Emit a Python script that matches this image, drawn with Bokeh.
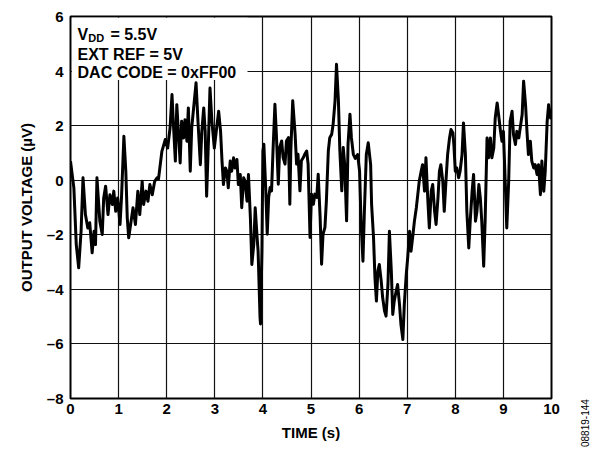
from bokeh.plotting import figure
from bokeh.layouts import row
from bokeh.models import FixedTicker, BoxAnnotation, Label, Range1d, Div
from bokeh.embed import file_html
from bokeh.resources import INLINE

time_s = [
    0.00, 0.07, 0.12, 0.17, 0.22, 0.26, 0.31, 0.36, 0.40, 0.45,
    0.49, 0.52, 0.55, 0.61, 0.66, 0.69, 0.73, 0.78, 0.82, 0.87,
    0.90, 0.94, 0.98, 1.03, 1.06, 1.11, 1.15, 1.18, 1.21, 1.26,
    1.30, 1.35, 1.40, 1.44, 1.49, 1.52, 1.57, 1.61, 1.65, 1.70,
    1.75, 1.80,
    1.83, 1.90, 1.97, 2.02, 2.07, 2.11, 2.14, 2.18, 2.21, 2.25,
    2.28, 2.31, 2.35, 2.38, 2.42, 2.45, 2.49, 2.52, 2.56, 2.61,
    2.65, 2.70, 2.73, 2.77, 2.80, 2.83, 2.87, 2.90, 2.94, 2.99,
    3.03, 3.08, 3.12, 3.15, 3.18, 3.22, 3.25, 3.28, 3.32, 3.35,
    3.39, 3.42, 3.46, 3.49, 3.53, 3.56, 3.60, 3.63, 3.67, 3.70,
    3.74, 3.77, 3.81, 3.84, 3.88,
    3.90, 3.94, 3.95, 3.98, 4.00, 4.02, 4.06, 4.09, 4.12, 4.15,
    4.18, 4.21, 4.25, 4.28, 4.32, 4.35, 4.39, 4.42, 4.46, 4.49,
    4.53, 4.56, 4.58, 4.62, 4.67, 4.70, 4.73, 4.77, 4.80, 4.84,
    4.87, 4.91, 4.94, 4.98, 5.01, 5.05, 5.08, 5.12, 5.15, 5.19,
    5.22, 5.25, 5.29, 5.32, 5.36, 5.39, 5.43, 5.46, 5.50, 5.53,
    5.57, 5.60, 5.64, 5.67, 5.70, 5.74, 5.77, 5.81, 5.84, 5.88,
    5.92,
    5.97, 6.01, 6.04, 6.08, 6.11, 6.15, 6.19, 6.24, 6.26, 6.30,
    6.33, 6.36, 6.39, 6.42, 6.46, 6.49, 6.53, 6.56, 6.60, 6.63,
    6.67, 6.70, 6.73, 6.77, 6.80, 6.84, 6.87, 6.91, 6.94, 6.98,
    7.01, 7.05, 7.08, 7.12, 7.15, 7.19, 7.22, 7.25, 7.29, 7.32,
    7.36, 7.39, 7.43, 7.46, 7.50, 7.53, 7.57, 7.60, 7.64, 7.67,
    7.70, 7.74, 7.77, 7.81, 7.84, 7.88, 7.91, 7.95,
    7.97, 8.00, 8.03, 8.07, 8.10, 8.14, 8.17, 8.21, 8.24, 8.28,
    8.31, 8.35, 8.38, 8.42, 8.45, 8.49, 8.52, 8.55, 8.59, 8.62,
    8.66, 8.69, 8.73, 8.76, 8.80, 8.83, 8.87, 8.90, 8.94, 8.97,
    9.00, 9.04, 9.07, 9.11, 9.14, 9.18, 9.21, 9.25, 9.28, 9.32,
    9.35, 9.39, 9.42, 9.46, 9.49, 9.52, 9.56, 9.59, 9.63, 9.66,
    9.70, 9.73, 9.77, 9.80, 9.84, 9.87, 9.91, 9.94, 9.98, 10.00,
]

voltage_uv = [
    0.70, -0.28, -2.36, -3.21, -1.87, 0.09, -1.26, -1.75, -1.56, -2.66,
    -1.87, -2.36, 0.09, -1.50, -1.99, -0.65, -0.22, -1.26, -0.53, -0.89,
    -0.40, -1.14, -0.65, -1.62, -0.65, 1.61, 0.33, -1.38, -2.11, -1.50,
    -1.01, -1.62, -0.40, -1.26, -0.04, -0.89, -0.40, -0.77, -0.16, -0.53,
    -0.04, 0.09,
    0.05, 1.06, 1.49, 1.18, 1.92, 3.14, 2.04, 0.70, 2.77, 1.55,
    0.63, 2.16, 1.55, 2.22, 1.43, 2.65, 0.33, 1.92, 2.65, 3.57,
    2.16, 0.57, 1.79, 2.65, 1.79, -0.59, 1.55, 3.38, 2.16, 1.18,
    1.79, 2.53, 1.79, 0.70, -0.16, 0.45, 0.33, -0.28, 0.70, 0.33,
    0.82, 0.45, 0.76, -0.16, 0.21, -1.01, 0.09, -0.04, -0.77, 0.21,
    -1.38, -3.09, -2.36, -1.01, -2.11,
    -2.59, -5.01, -5.27, -2.59, 1.07, 1.32, -0.39, -1.98, -0.63, -0.27,
    -0.39, 1.07, 2.78, 1.68, -0.15, 1.20, 1.44, 0.83, 0.59, 1.44,
    1.56, -0.88, 1.07, 2.91, 1.68, 0.59, 0.95, -0.39, 0.71, 0.83,
    0.95, 1.07, 0.59, -2.10, -0.51, -0.88, -0.51, -0.63, 0.22, -1.37,
    -3.08, -1.98, -1.73, -0.76, 1.07, 1.56, 1.68, 2.05, 2.91, 4.25,
    2.91, 1.07, -0.39, 1.20, 0.59, -1.49, 1.32, 2.42, 1.56, 0.95,
    0.80,
    0.94, 0.33, -1.50, -2.97, -1.14, 0.94, 1.37, 0.57, -0.89, -2.11,
    -3.58, -4.43, -3.33, -3.09, -3.70, -4.31, -4.80, -4.98, -3.82, -1.87,
    -3.33, -4.92, -4.43, -4.07, -3.82, -4.55, -5.29, -5.84, -4.55, -3.46,
    -2.85, -1.87, -2.60, -1.99, -1.50, -1.01, -0.53, -0.04, 0.33, 0.57,
    -0.40, 0.82, -0.77, -1.75, -0.40, -0.16, -1.14, -1.62, -0.65, 0.33,
    0.57, -0.04, -1.14, 0.09, 0.94, 1.55, 1.86, 1.73,
    1.31, 0.33, 0.45, 0.09, 0.33, 0.94, 2.10, 0.94, -1.14, -2.48,
    -1.50, -0.40, 0.21, -1.50, -1.14, -0.16, -0.65, -1.50, -3.15, -1.50,
    1.55, 0.82, 1.55, 0.82, 1.18, 2.28, 2.83, 2.40, 1.79, 1.43,
    1.79, -0.16, -1.75, -0.04, 2.16, 2.53, 1.67, 1.31, 1.79, 1.55,
    1.92, 2.41, 3.63, 2.78, 1.79, 0.94, 1.43, 0.70, 0.45, 0.57,
    0.21, 0.57, -0.53, 0.70, -0.40, 0.33, 2.16, 2.77, 2.28, 2.60,
]

x_ticks = [0, 1, 2, 3, 4, 5, 6, 7, 8, 9, 10]
y_ticks = [-8, -6, -4, -2, 0, 2, 4, 6]
y_tick_labels = {-8: "\u20138", -6: "\u20136", -4: "\u20134", -2: "\u20132",
                 0: "0", 2: "2", 4: "4", 6: "6"}
x_title = "TIME (s)"
y_title = "OUTPUT VOLTAGE (\u00b5V)"
note_vdd_main = "V"
note_vdd_sub = "DD"
note_vdd_rest = "= 5.5V"
note_line2 = "EXT REF = 5V"
note_line3 = "DAC CODE = 0xFF00"
fig_code = "08819-144"

FONT = "Liberation Sans"

p = figure(frame_width=481, frame_height=382,
           x_range=Range1d(0, 10), y_range=Range1d(-8, 6),
           output_backend="svg", toolbar_location=None,
           min_border_left=70, min_border_right=24,
           min_border_top=16, min_border_bottom=52)

p.background_fill_color = "white"
p.border_fill_color = "white"
p.outline_line_color = "black"
p.outline_line_width = 2

p.xaxis.ticker = FixedTicker(ticks=x_ticks)
p.yaxis.ticker = FixedTicker(ticks=y_ticks)
p.xgrid.ticker = FixedTicker(ticks=x_ticks)
p.ygrid.ticker = FixedTicker(ticks=y_ticks)
p.yaxis.major_label_overrides = y_tick_labels

for g in (p.xgrid, p.ygrid):
    g.grid_line_color = "#111111"
    g.grid_line_width = 1.2

for ax in (p.xaxis, p.yaxis):
    ax.axis_line_color = None
    ax.major_tick_line_color = None
    ax.minor_tick_line_color = None
    ax.major_tick_out = 0
    ax.major_tick_in = 0
    ax.minor_tick_out = 0
    ax.minor_tick_in = 0
    ax.major_label_text_font = FONT
    ax.major_label_text_font_style = "bold"
    ax.major_label_text_font_size = "15px"
    ax.major_label_text_color = "black"
    ax.axis_label_text_font = FONT
    ax.axis_label_text_font_style = "bold"
    ax.axis_label_text_font_size = "15px"
    ax.axis_label_text_color = "black"

p.xaxis.major_label_standoff = 5
p.yaxis.major_label_standoff = 7
p.xaxis.axis_label = x_title
p.yaxis.axis_label = y_title
p.xaxis.axis_label_standoff = 7
p.yaxis.axis_label_standoff = 9

p.line(time_s, voltage_uv, line_color="black", line_width=3,
       line_join="round")

# white box behind the condition notes
p.add_layout(BoxAnnotation(left=0.03, right=3.68, bottom=3.674, top=5.95,
                           fill_color="white", fill_alpha=1.0,
                           line_color=None))

def note(x, y, text, size="16px"):
    p.add_layout(Label(x=x, y=y, text=text, text_font=FONT,
                       text_font_style="bold", text_font_size=size,
                       text_color="black", text_baseline="alphabetic",
                       text_align="left"))

note(0.146, 5.35, note_vdd_main)
note(0.368, 5.21, note_vdd_sub, "11px")
note(0.83, 5.35, note_vdd_rest)
note(0.146, 4.60, note_line2)
note(0.146, 3.94, note_line3)

# figure code at the bottom right, read bottom to top
code_div = Div(text=fig_code, width=20, height=450,
               styles={"writing-mode": "vertical-rl",
                       "transform": "rotate(180deg)",
                       "font-family": "Liberation Sans",
                       "font-size": "10px",
                       "line-height": "12px",
                       "color": "black",
                       "padding-top": "8px",
                       "box-sizing": "border-box",
                       "white-space": "nowrap",
                       "overflow": "visible"})

layout = row(p, code_div)
open("out.html", "w").write(file_html(layout, INLINE))
